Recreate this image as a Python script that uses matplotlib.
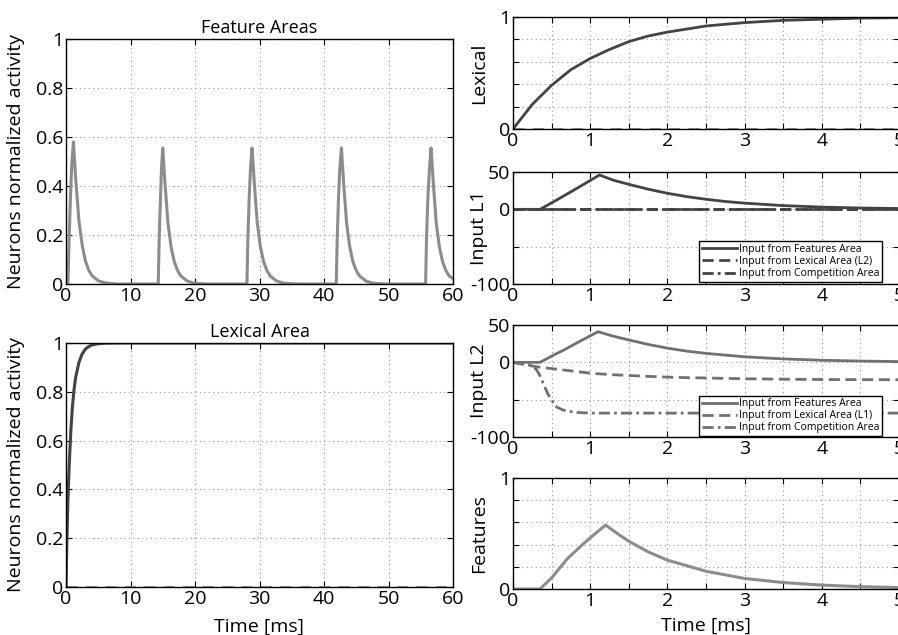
import numpy as np
import matplotlib
matplotlib.use("Agg")
import matplotlib.pyplot as plt

plt.rcParams["font.family"] = ["Open Sans", "DejaVu Sans"]

# ------------------------------
# DATA
# ------------------------------
# Feature Areas, full 60 ms run
feat_full_t = [0, 0.3, 0.5, 0.7, 0.9, 1.15, 1.5, 2.0, 2.5, 3.0, 3.5, 4.0, 5.0, 6.0, 7.0, 8.0,
               14.3, 14.45, 14.65, 14.8, 15.0, 15.35, 15.8, 16.3, 16.8, 17.3, 17.8, 18.8, 19.8, 21.0, 22.0,
               28.05, 28.2, 28.4, 28.6, 28.85, 29.2, 29.65, 30.15, 30.65, 31.15, 31.65, 32.65, 33.65, 34.8, 36.0,
               41.9, 42.05, 42.25, 42.45, 42.7, 43.05, 43.5, 44.0, 44.5, 45.0, 45.5, 46.5, 47.5, 48.7, 50.0,
               55.75, 55.9, 56.1, 56.35, 56.6, 56.95, 57.4, 57.9, 58.4, 58.9, 59.4, 60.0]
feat_full_y = [0, 0, 0.2, 0.36, 0.49, 0.58, 0.43, 0.26, 0.16, 0.095, 0.058, 0.035, 0.013, 0.005, 0.002, 0,
               0, 0.19, 0.35, 0.47, 0.555, 0.41, 0.25, 0.15, 0.09, 0.055, 0.033, 0.012, 0.004, 0.001, 0,
               0, 0.19, 0.35, 0.47, 0.555, 0.41, 0.25, 0.15, 0.09, 0.055, 0.033, 0.012, 0.004, 0.001, 0,
               0, 0.19, 0.35, 0.47, 0.555, 0.41, 0.25, 0.15, 0.09, 0.055, 0.033, 0.012, 0.004, 0.001, 0,
               0, 0.19, 0.35, 0.47, 0.555, 0.41, 0.25, 0.15, 0.09, 0.055, 0.033, 0.022]

# Lexical Area, full 60 ms run
lex_full_t = [0, 0.15, 0.3, 0.5, 0.75, 1.0, 1.25, 1.5, 2.0, 2.5, 3.0, 3.5, 4.0, 5.0, 6.0, 8.0, 10.0, 60.0]
lex_full_y = [0, 0.2, 0.36, 0.5, 0.64, 0.74, 0.81, 0.86, 0.92, 0.955, 0.975, 0.985, 0.992, 0.997, 0.999, 1.0, 1.0, 1.0]
lex_other_t = [0, 60]
lex_other_y = [0, 0]

# zoom on the first 5 ms
lex_t = [0, 0.25, 0.5, 0.75, 1.0, 1.25, 1.5, 1.75, 2.0, 2.5, 3.0, 3.5, 4.0, 4.5, 5.0]
lex_y = [0, 0.22, 0.39, 0.53, 0.63, 0.71, 0.78, 0.83, 0.865, 0.92, 0.95, 0.97, 0.98, 0.99, 0.993]

l1_t = [0, 0.35, 0.6, 0.85, 1.12, 1.3, 1.5, 1.75, 2.0, 2.25, 2.5, 2.75, 3.0, 3.5, 4.0, 4.5, 5.0]
l1_feat = [0, 0, 14.5, 29.5, 46, 39, 33.5, 27, 21.5, 17, 13.5, 10.5, 8.3, 5, 3, 1.8, 1.1]
l1_lex = [0] * 17
l1_comp = [0] * 17

l2_t = [0, 0.2, 0.3, 0.35, 0.45, 0.55, 0.65, 0.8, 1.0, 1.1, 1.3, 1.5, 1.75, 2.0, 2.25, 2.5, 3.0, 3.5, 4.0, 4.5, 5.0]
l2_feat = [0, 0, 0, 0, 5.5, 11, 16, 24.5, 35.5, 41, 35, 30, 24, 19, 15, 12, 7.4, 4.6, 2.8, 1.7, 1.0]
l2_lex = [0, -4, -5.8, -6.6, -7.8, -9, -10.2, -12, -14.5, -15.3, -16.6, -17.6, -18.8, -19.8, -20.5, -21,
          -22, -22.6, -23, -23.2, -23.3]
l2_comp = [0, -3, -9, -18, -42, -59, -64, -67, -68, -68, -68, -68, -68, -68, -68, -68,
           -68, -68, -68, -68, -68]

feat_t = [0, 0.35, 0.5, 0.7, 0.9, 1.05, 1.2, 1.35, 1.5, 1.75, 2.0, 2.5, 3.0, 3.5, 4.0, 4.5, 5.0]
feat_y = [0, 0, 0.1, 0.27, 0.4, 0.49, 0.576, 0.5, 0.43, 0.335, 0.26, 0.16, 0.095, 0.058, 0.035, 0.021, 0.013]

legend_l1 = ["Input from Features Area", "Input from Lexical Area (L2)", "Input from Competition Area"]
legend_l2 = ["Input from Features Area", "Input from Lexical Area (L1)", "Input from Competition Area"]

DARK = "#434343"
MID = "#707070"
LIGHT = "#8c8c8c"
W, H = 898, 635


def px_axes(fig, left, top, right, bottom):
    return fig.add_axes([left / W, 1 - bottom / H, (right - left) / W, (bottom - top) / H])


def style_axes(ax):
    ax.grid(True, linestyle=(0, (1, 3)), color="#999999", linewidth=0.8)
    ax.tick_params(direction="in", top=True, right=True, labelsize=14, length=4, pad=2)
    for s in ax.spines.values():
        s.set_linewidth(1.0)
    ax.set_axisbelow(True)


def add_legend(ax, labels, anchor):
    leg = ax.legend(labels, loc="lower right", bbox_to_anchor=anchor, fontsize=7.5,
                    handlelength=3.4, handletextpad=0.1, borderpad=0.25, labelspacing=0.1,
                    fancybox=False, framealpha=1, edgecolor="black", borderaxespad=0)
    leg.get_frame().set_linewidth(1.0)


# ------------------------------
# LEFT COLUMN
# ------------------------------
fig = plt.figure(figsize=(W / 100, H / 100), dpi=100)

ax1 = px_axes(fig, 66, 39, 453, 284)
ax1.plot(feat_full_t, feat_full_y, color=LIGHT, linewidth=2.2)
ax1.set_xlim(0, 60)
ax1.set_ylim(0, 1)
ax1.set_xticks([0, 10, 20, 30, 40, 50, 60])
ax1.set_yticks([0, 0.2, 0.4, 0.6, 0.8, 1])
ax1.set_yticklabels(["0", "0.2", "0.4", "0.6", "0.8", "1"])
ax1.set_title("Feature Areas", fontsize=13, pad=4)
ax1.set_ylabel("Neurons normalized activity", fontsize=14)
ax1.yaxis.set_label_coords(-0.105, 0.5)
style_axes(ax1)

ax2 = px_axes(fig, 66, 343, 453, 587)
ax2.plot(lex_other_t, lex_other_y, color=LIGHT, linewidth=2, linestyle=(0, (4, 3)))
ax2.plot(lex_full_t, lex_full_y, color=DARK, linewidth=2.2)
ax2.set_xlim(0, 60)
ax2.set_ylim(0, 1)
ax2.set_xticks([0, 10, 20, 30, 40, 50, 60])
ax2.set_yticks([0, 0.2, 0.4, 0.6, 0.8, 1])
ax2.set_yticklabels(["0", "0.2", "0.4", "0.6", "0.8", "1"])
ax2.set_title("Lexical Area", fontsize=13, pad=4)
ax2.set_ylabel("Neurons normalized activity", fontsize=14)
ax2.yaxis.set_label_coords(-0.105, 0.5)
ax2.set_xlabel("Time [ms]", fontsize=14, labelpad=7)
style_axes(ax2)

# ------------------------------
# RIGHT COLUMN
# ------------------------------
ax3 = px_axes(fig, 513, 17, 899, 129)
ax3.plot(lex_t, [0] * len(lex_t), color=LIGHT, linewidth=2, linestyle=(0, (4, 3)))
ax3.plot(lex_t, lex_y, color=DARK, linewidth=2.0)
ax3.set_ylim(0, 1)
ax3.set_yticks([0, 0.2, 0.4, 0.6, 0.8, 1])
ax3.set_yticklabels(["0", "", "", "", "", "1"])
ax3.set_ylabel("Lexical", fontsize=14)

ax4 = px_axes(fig, 513, 172, 899, 284)
ax4.plot(l1_t, l1_feat, color=DARK, linewidth=2.0, linestyle="-")
ax4.plot(l1_t, l1_lex, color=DARK, linewidth=2.0, linestyle=(0, (4, 2)))
ax4.plot(l1_t, l1_comp, color=DARK, linewidth=2.0, linestyle=(0, (4, 1.5, 1, 1.5)))
ax4.set_ylim(-100, 50)
ax4.set_yticks([-100, -50, 0, 50])
ax4.set_yticklabels(["-100", "", "0", "50"])
ax4.set_ylabel("Input L1", fontsize=14)
add_legend(ax4, legend_l1, (0.955, 0.02))

ax5 = px_axes(fig, 513, 325, 899, 437)
ax5.plot(l2_t, l2_feat, color=MID, linewidth=2.0, linestyle="-")
ax5.plot(l2_t, l2_lex, color=MID, linewidth=2.0, linestyle=(0, (4, 2)))
ax5.plot(l2_t, l2_comp, color=MID, linewidth=2.0, linestyle=(0, (4, 1.5, 1, 1.5)))
ax5.set_ylim(-100, 50)
ax5.set_yticks([-100, -50, 0, 50])
ax5.set_yticklabels(["-100", "", "0", "50"])
ax5.set_ylabel("Input L2", fontsize=14)
add_legend(ax5, legend_l2, (0.955, 0.01))

ax6 = px_axes(fig, 513, 478, 899, 589)
ax6.plot(feat_t, feat_y, color=LIGHT, linewidth=2.2)
ax6.set_ylim(0, 1)
ax6.set_yticks([0, 0.2, 0.4, 0.6, 0.8, 1])
ax6.set_yticklabels(["0", "", "", "", "", "1"])
ax6.set_ylabel("Features", fontsize=14)
ax6.set_xlabel("Time [ms]", fontsize=14, labelpad=5)

for ax in (ax3, ax4, ax5, ax6):
    ax.set_xlim(0, 5)
    ax.set_xticks([0, 0.5, 1, 1.5, 2, 2.5, 3, 3.5, 4, 4.5, 5])
    ax.set_xticklabels(["0", "", "1", "", "2", "", "3", "", "4", "", "5"])
    ax.yaxis.set_label_coords(-0.065, 0.5)
    style_axes(ax)

fig.savefig("out.png", dpi=100)
